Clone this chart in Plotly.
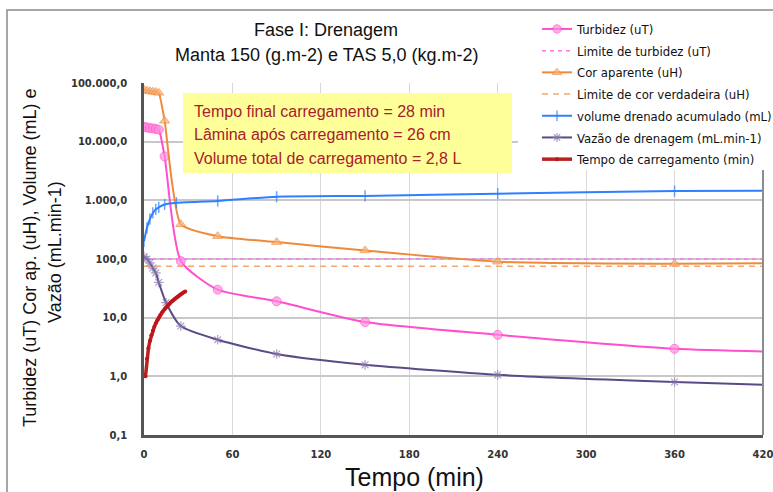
import plotly.graph_objects as go

# ---------------- data ----------------
turb_t = [0, 2, 4, 6, 8, 10, 14, 25, 50, 90, 150, 240, 360, 420]
turb_v = [18000, 17500, 17000, 16800, 16500, 16000, 5600, 92, 30, 19, 8.4, 5.1, 2.95, 2.65]

lim_turb_t = [0, 420]
lim_turb_v = [100, 100]

cor_t = [0, 2, 4, 6, 8, 10, 14, 25, 50, 90, 150, 240, 360, 420]
cor_v = [76000, 74000, 72000, 71000, 70000, 68000, 22700, 390, 245, 194, 140, 90, 83, 85]

lim_cor_t = [0, 420]
lim_cor_v = [75, 75]

vol_t = [0, 2, 4, 6, 8, 10, 14, 22, 50, 90, 150, 240, 360, 420]
vol_v = [200, 340, 480, 610, 700, 760, 850, 910, 975, 1150, 1190, 1300, 1440, 1450]

vaz_t = [0, 2, 4, 6, 8, 10, 15, 25, 50, 90, 150, 240, 360, 420]
vaz_v = [110, 100, 86, 70, 58, 40, 18, 7.2, 4.2, 2.4, 1.57, 1.06, 0.8, 0.72]

carreg_t = [1, 2, 3, 4, 5, 6, 7, 8, 9, 10, 11, 12, 13, 14, 15, 16, 17, 18, 19, 20,
            21, 22, 23, 24, 25, 26, 27, 28]
carreg_v = [1, 2, 3, 4, 5, 6, 7, 8, 9, 10, 11, 12, 13, 14, 15, 16, 17, 18, 19, 20,
            21, 22, 23, 24, 25, 26, 27, 28]

x_ticks = [0, 60, 120, 180, 240, 300, 360, 420]
y_ticks = [0.1, 1, 10, 100, 1000, 10000, 100000]
y_ticktext = ["0,1", "1,0", "10,0", "100,0", "1.000,0", "10.000,0", "100.000,0"]

title_lines = ["Fase I: Drenagem", "Manta 150 (g.m-2) e TAS 5,0 (kg.m-2)"]
info_lines = ["Tempo final carregamento = 28 min",
              "Lâmina após carregamento = 26 cm",
              "Volume total de carregamento = 2,8 L"]

# ---------------- layout geometry ----------------
# figure is a bit wider than the 773px window so the legend never pushes the margins
W, H = 800, 492
L, T, B = 144, 83, 57
PLOT_RIGHT = 763
R = W - PLOT_RIGHT
PW, PH = PLOT_RIGHT - L, H - T - B


def px(x):
    return (x - L) / PW


def py(y):
    return (H - B - y) / PH


PINK = "#FF4FCF"
ORANGE = "#EE8A3A"
BLUE = "#2F80FF"
PURPLE = "#5B4A86"
RED = "#C0141A"


def msizes(ts, s):
    return [0 if t == 420 else s for t in ts]


fig = go.Figure()
fig.add_trace(go.Scatter(
    x=turb_t, y=turb_v, name="Turbidez (uT)", mode="lines+markers", legendgroup="a",
    line=dict(color=PINK, width=2, shape="spline", smoothing=0.6),
    marker=dict(symbol="circle", size=msizes(turb_t, 9), color="#FF8CDB",
                line=dict(color=PINK, width=1))))
fig.add_trace(go.Scatter(
    x=lim_turb_t, y=lim_turb_v, name="Limite de turbidez (uT)", mode="lines", legendgroup="b",
    line=dict(color="#FF77EE", width=1.5, dash="4px,4px")))
fig.add_trace(go.Scatter(
    x=cor_t, y=cor_v, name="Cor aparente (uH)", mode="lines+markers", legendgroup="c",
    line=dict(color=ORANGE, width=2, shape="spline", smoothing=0.5),
    marker=dict(symbol="triangle-up", size=msizes(cor_t, 9), color="#F5B27A",
                line=dict(color=ORANGE, width=1))))
fig.add_trace(go.Scatter(
    x=lim_cor_t, y=lim_cor_v, name="Limite de cor verdadeira (uH)", mode="lines", legendgroup="d",
    line=dict(color="#F4A870", width=1.5, dash="6px,5px")))
fig.add_trace(go.Scatter(
    x=vol_t, y=vol_v, name="volume drenado acumulado (mL)", mode="lines+markers", legendgroup="e",
    line=dict(color=BLUE, width=2, shape="spline", smoothing=0.6),
    marker=dict(symbol="line-ns", size=msizes(vol_t, 8),
                line=dict(color=BLUE, width=1.5))))
fig.add_trace(go.Scatter(
    x=vaz_t, y=vaz_v, name="Vazão de drenagem (mL.min-1)", mode="lines+markers", legendgroup="f",
    line=dict(color=PURPLE, width=2, shape="spline", smoothing=0.6),
    marker=dict(symbol="asterisk", size=msizes(vaz_t, 8),
                line=dict(color="#8A7AB0", width=1.2))))
fig.add_trace(go.Scatter(
    x=carreg_t, y=carreg_v, name="Tempo de carregamento (min)", mode="lines+markers", legendgroup="g",
    line=dict(color="#B82222", width=3.5),
    marker=dict(symbol="circle", size=4, color=RED)))

axis_font = dict(family="DejaVu Sans", size=10, color="#333333", weight="bold")

fig.update_xaxes(
    range=[0, 420], tickvals=x_ticks, ticktext=[str(v) for v in x_ticks],
    showgrid=True, gridcolor="#d9d9d9", gridwidth=1,
    showline=True, linecolor="#555555", linewidth=2.5,
    zeroline=False, ticks="", tickfont=axis_font, ticklabelstandoff=8,
    ticklabeloverflow="allow")
fig.update_yaxes(
    type="log", range=[-1, 5], tickvals=y_ticks, ticktext=y_ticktext,
    showgrid=True, gridcolor="#c8c8c8", gridwidth=2,
    showline=True, linecolor="#555555", linewidth=2.5,
    zeroline=False, ticks="", tickfont=axis_font, ticklabelstandoff=12)

shapes = [
    # right frame line of plot
    dict(type="line", xref="paper", yref="paper", x0=1, x1=1, y0=0, y1=1,
         line=dict(color="#8c8c8c", width=2), layer="above"),
    # white backing behind legend
    dict(type="rect", xref="paper", yref="paper", x0=px(518), x1=px(800),
         y0=py(170), y1=py(12), fillcolor="white", line=dict(width=0), layer="above"),
    # outer chart border
    dict(type="rect", xref="paper", yref="paper", x0=px(7), x1=px(810),
         y0=py(510), y1=py(10), fillcolor="rgba(0,0,0,0)",
         line=dict(color="#8a8a8a", width=1.5), layer="above"),
    # yellow info box
    dict(type="rect", xref="paper", yref="paper", x0=px(183), x1=px(512),
         y0=py(173), y1=py(93), fillcolor="#FFFF99", line=dict(width=0), layer="above"),
]

annotations = []
for txt, yy in zip(title_lines, [30, 55]):
    annotations.append(dict(text=txt, xref="paper", yref="paper", x=px(326), y=py(yy),
                            xanchor="center", yanchor="middle", showarrow=False,
                            font=dict(family="Liberation Sans, Arial", size=18, color="#111111")))
for txt, yy in zip(info_lines, [111, 134, 158]):
    annotations.append(dict(text=txt, xref="paper", yref="paper", x=px(192), y=py(yy),
                            xanchor="left", yanchor="middle", showarrow=False,
                            font=dict(family="Liberation Sans, Arial", size=16, color="#A8202C")))
annotations.append(dict(text="Turbidez (uT) Cor ap. (uH), Volume (mL) e", xref="paper", yref="paper",
                        x=px(30), y=py(258), textangle=-90, xanchor="center", yanchor="middle",
                        showarrow=False,
                        font=dict(family="Liberation Sans, Arial", size=18, color="#111111")))
annotations.append(dict(text="Vazão (mL.min-1)", xref="paper", yref="paper",
                        x=px(55), y=py(252), textangle=-90, xanchor="center", yanchor="middle",
                        showarrow=False,
                        font=dict(family="Liberation Sans, Arial", size=18, color="#111111")))
annotations.append(dict(text="Tempo (min)", xref="paper", yref="paper",
                        x=px(414), y=py(477), xanchor="center", yanchor="middle",
                        showarrow=False,
                        font=dict(family="Liberation Sans, Arial", size=25, color="#111111")))

fig.update_layout(
    width=W, height=H,
    margin=dict(l=L, r=R, t=T, b=B),
    paper_bgcolor="white", plot_bgcolor="white",
    shapes=shapes, annotations=annotations,
    showlegend=True,
    legend=dict(x=px(537), y=py(14), xanchor="left", yanchor="top",
                bgcolor="rgba(0,0,0,0)", borderwidth=0,
                font=dict(family="DejaVu Sans Condensed, DejaVu Sans, Liberation Sans",
                          size=13, color="#111111"),
                itemwidth=30, tracegroupgap=1.8),
)

fig.write_html("out.html", config={"displayModeBar": False},
               post_script="document.body.style.margin='0';document.body.style.overflow='hidden';")
